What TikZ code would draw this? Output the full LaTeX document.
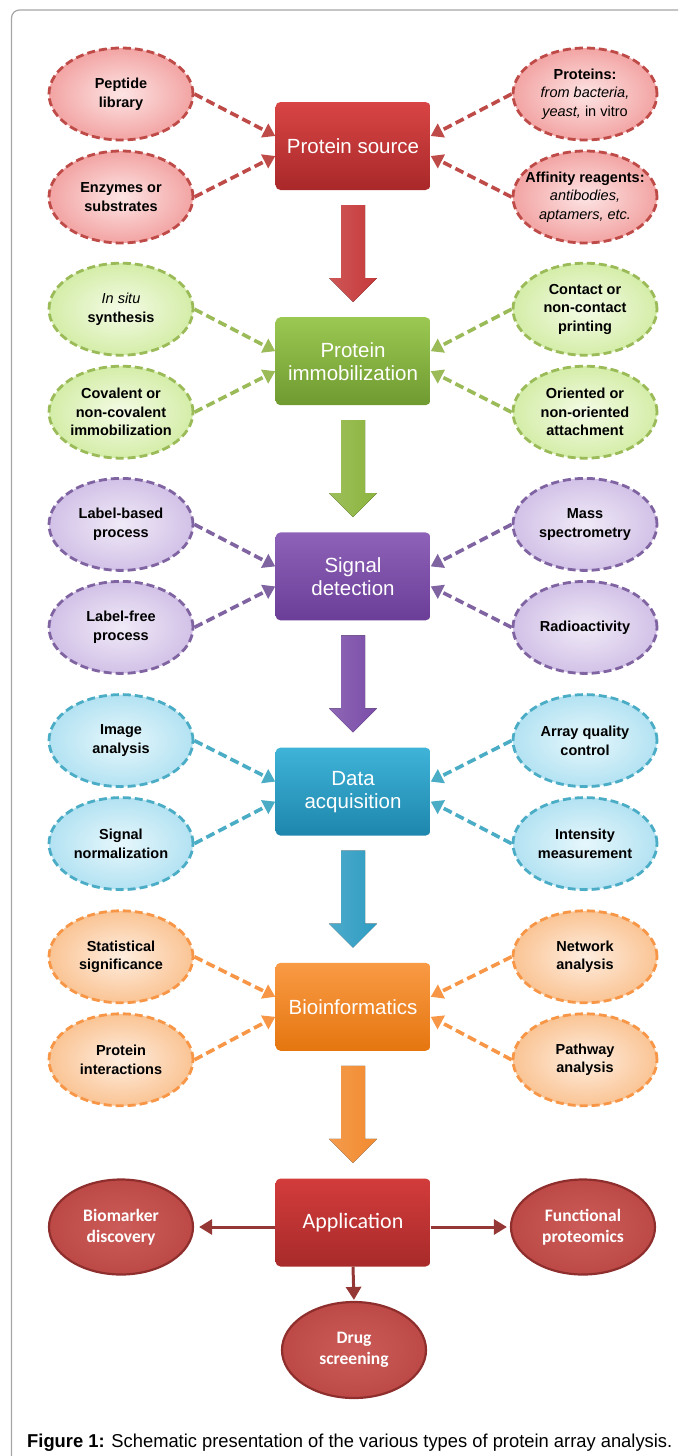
\documentclass[tikz,border=0pt]{standalone}
\usepackage{fontspec}
\setmainfont{Liberation Sans}
\newfontfamily\calfont{Carlito}
\newfontfamily\capfont[FakeStretch=0.8]{Liberation Sans}
\usetikzlibrary{shapes.geometric,arrows.meta,calc}

% section colours
\definecolor{rbord}{HTML}{BE4B48}\definecolor{rin}{HTML}{FDE4E4}\definecolor{rout}{HTML}{F2A4A3}
\definecolor{rtop}{HTML}{D84544}\definecolor{rbot}{HTML}{A9282A}\definecolor{rarr}{HTML}{C6393A}
\definecolor{gbord}{HTML}{9BBB59}\definecolor{gin}{HTML}{F4FBE6}\definecolor{gout}{HTML}{D4EDA8}
\definecolor{gtop}{HTML}{9BC852}\definecolor{gbot}{HTML}{6F9A31}\definecolor{garr}{HTML}{8CB43E}
\definecolor{pbord}{HTML}{8064A2}\definecolor{pin}{HTML}{F0EAF7}\definecolor{pout}{HTML}{D2C1E7}
\definecolor{ptop}{HTML}{8F62B9}\definecolor{pbot}{HTML}{6A3D97}\definecolor{parr}{HTML}{7A4CA8}
\definecolor{cbord}{HTML}{4BACC6}\definecolor{cin}{HTML}{E6F7FC}\definecolor{cout}{HTML}{B3E2F2}
\definecolor{ctop}{HTML}{3FB3D8}\definecolor{cbot}{HTML}{1E86AC}\definecolor{carr}{HTML}{2E9CC2}
\definecolor{obord}{HTML}{F79646}\definecolor{oin}{HTML}{FEEDDF}\definecolor{oout}{HTML}{FAC494}
\definecolor{otop}{HTML}{F99A45}\definecolor{obot}{HTML}{E5760F}\definecolor{oarr}{HTML}{F28A2E}
\definecolor{atop}{HTML}{D23C3B}\definecolor{abot}{HTML}{A82A2A}
\definecolor{ain}{HTML}{CC5C59}\definecolor{aout}{HTML}{BC4946}\definecolor{abord}{HTML}{8E2F2D}
\definecolor{aline}{HTML}{953735}
\definecolor{framec}{HTML}{A6A6A6}

\newcommand\blockarrow[2]{%
  \fill[left color=#2!85!white, right color=#2]
    (341,#1) -- (365,#1) -- (365,{#1+73}) -- (377,{#1+73}) -- (353,{#1+97})
    -- (329,{#1+73}) -- (341,{#1+73}) -- cycle;}

\begin{document}
\begin{tikzpicture}[
  x=1pt, y=-1pt,
  oval/.style={ellipse, minimum width=144pt, minimum height=92pt, inner sep=-30pt,
    align=center, font=\fontsize{14.5}{18.5}\selectfont\bfseries,
    line width=2.8pt, dash pattern=on 8pt off 4pt},
  ovalR/.style={oval, draw=rbord, inner color=rin, outer color=rout},
  ovalG/.style={oval, draw=gbord, inner color=gin, outer color=gout},
  ovalP/.style={oval, draw=pbord, inner color=pin, outer color=pout},
  ovalC/.style={oval, draw=cbord, inner color=cin, outer color=cout},
  ovalO/.style={oval, draw=obord, inner color=oin, outer color=oout},
  appoval/.style={ellipse, minimum width=144pt, minimum height=95pt, inner sep=-30pt,
    align=center, draw=abord, line width=2.2pt, inner color=ain, outer color=aout,
    text=white, font=\calfont\fontsize{17.5}{20.5}\selectfont\bfseries},
  stage/.style={rectangle, rounded corners=5pt, minimum width=155pt, minimum height=88pt,
    inner sep=2pt, align=center, text=white, font=\fontsize{20.5}{23}\selectfont},
  dconn/.style={draw=#1, line width=3.6pt, dash pattern=on 9pt off 4.5pt,
    -{Triangle[length=12pt,width=15pt]}},
  sconn/.style={draw=aline, line width=3pt, -{Triangle[length=13pt,width=15pt]}}
]
\useasboundingbox (0,0) rectangle (678,1456);
\clip (0,0) rectangle (678,1456);
\draw[framec, line width=1.2pt, rounded corners=8pt] (11.5,10) rectangle (720,1490);

% ---------- Section 1: Protein source ----------
\node[stage, top color=rtop, bottom color=rbot] (b0) at (353,146) {Protein source};
\node[ovalR] (l0a) at (121,94) {Peptide\\library};
\node[ovalR] (l0b) at (121,197) {Enzymes or\\substrates};
\node[ovalR] (r0a) at (585,94) {Proteins:\\{\mdseries\itshape from bacteria,}\\{\mdseries\itshape yeast,}{\mdseries{} in vitro}};
\node[ovalR] (r0b) at (585,197) {Affinity reagents:\\{\mdseries\itshape antibodies,}\\{\mdseries\itshape aptamers, etc.}};
\draw[dconn=rbord] (l0a.east) -- ([yshift=10pt]b0.west);
\draw[dconn=rbord] (l0b.east) -- ([yshift=-10pt]b0.west);
\draw[dconn=rbord] (r0a.west) -- ([yshift=10pt]b0.east);
\draw[dconn=rbord] (r0b.west) -- ([yshift=-10pt]b0.east);
\blockarrow{205}{rarr}

% ---------- Section 2: Protein immobilization ----------
\node[stage, top color=gtop, bottom color=gbot] (b1) at (353,361.2) {Protein\\immobilization};
\node[ovalG] (l1a) at (121,309.2) {{\mdseries\itshape In situ}\\synthesis};
\node[ovalG] (l1b) at (121,412.2) {Covalent or\\non-covalent\\immobilization};
\node[ovalG] (r1a) at (585,309.2) {Contact or\\non-contact\\printing};
\node[ovalG] (r1b) at (585,412.2) {Oriented or\\non-oriented\\attachment};
\draw[dconn=gbord] (l1a.east) -- ([yshift=10pt]b1.west);
\draw[dconn=gbord] (l1b.east) -- ([yshift=-10pt]b1.west);
\draw[dconn=gbord] (r1a.west) -- ([yshift=10pt]b1.east);
\draw[dconn=gbord] (r1b.west) -- ([yshift=-10pt]b1.east);
\blockarrow{420.2}{garr}

% ---------- Section 3: Signal detection ----------
\node[stage, top color=ptop, bottom color=pbot] (b2) at (353,576.4) {Signal\\detection};
\node[ovalP] (l2a) at (121,524.4) {Label-based\\process};
\node[ovalP] (l2b) at (121,627.4) {Label-free\\process};
\node[ovalP] (r2a) at (585,524.4) {Mass\\spectrometry};
\node[ovalP] (r2b) at (585,627.4) {Radioactivity};
\draw[dconn=pbord] (l2a.east) -- ([yshift=10pt]b2.west);
\draw[dconn=pbord] (l2b.east) -- ([yshift=-10pt]b2.west);
\draw[dconn=pbord] (r2a.west) -- ([yshift=10pt]b2.east);
\draw[dconn=pbord] (r2b.west) -- ([yshift=-10pt]b2.east);
\blockarrow{635.4}{parr}

% ---------- Section 4: Data acquisition ----------
\node[stage, top color=ctop, bottom color=cbot] (b3) at (353,791.6) {Data\\acquisition};
\node[ovalC] (l3a) at (121,740.6) {Image\\analysis};
\node[ovalC] (l3b) at (121,843.6) {Signal\\normalization};
\node[ovalC] (r3a) at (585,740.6) {Array quality\\control};
\node[ovalC] (r3b) at (585,843.6) {Intensity\\measurement};
\draw[dconn=cbord] (l3a.east) -- ([yshift=10pt]b3.west);
\draw[dconn=cbord] (l3b.east) -- ([yshift=-10pt]b3.west);
\draw[dconn=cbord] (r3a.west) -- ([yshift=10pt]b3.east);
\draw[dconn=cbord] (r3b.west) -- ([yshift=-10pt]b3.east);
\blockarrow{850.6}{carr}

% ---------- Section 5: Bioinformatics ----------
\node[stage, top color=otop, bottom color=obot] (b4) at (353,1006.8) {Bioinformatics};
\node[ovalO] (l4a) at (121,956.8) {Statistical\\significance};
\node[ovalO] (l4b) at (121,1059.8) {Protein\\interactions};
\node[ovalO] (r4a) at (585,956.8) {Network\\analysis};
\node[ovalO] (r4b) at (585,1059.8) {Pathway\\analysis};
\draw[dconn=obord] (l4a.east) -- ([yshift=10pt]b4.west);
\draw[dconn=obord] (l4b.east) -- ([yshift=-10pt]b4.west);
\draw[dconn=obord] (r4a.west) -- ([yshift=10pt]b4.east);
\draw[dconn=obord] (r4b.west) -- ([yshift=-10pt]b4.east);
\blockarrow{1065.8}{oarr}

% ---------- Section 6: Application ----------
\node[stage, top color=atop, bottom color=abot, font=\calfont\fontsize{22}{26}\selectfont] (b5) at (353,1222.5) {Application};
\node[appoval] (bm) at (121,1227) {Biomarker\\discovery};
\node[appoval] (fp) at (583,1227) {Functional\\proteomics};
\node[appoval, minimum height=96pt] (ds) at (354,1350) {Drug\\screening};
\draw[sconn, shorten >=5pt] (b5.west |- bm.east) -- (bm.east);
\draw[sconn, shorten >=3pt] (b5.east |- fp.west) -- (fp.west);
\draw[sconn, shorten >=1pt] (b5.south) -- (ds.north);

% ---------- Caption ----------
\node[anchor=base west, inner sep=0pt] (cap) at (27,1447)
  {\resizebox{645pt}{13.5pt}{\capfont\fontsize{18}{21}\selectfont\textbf{Figure 1:} Schematic presentation of the various types of protein array analysis.}};
\end{tikzpicture}
\end{document}
